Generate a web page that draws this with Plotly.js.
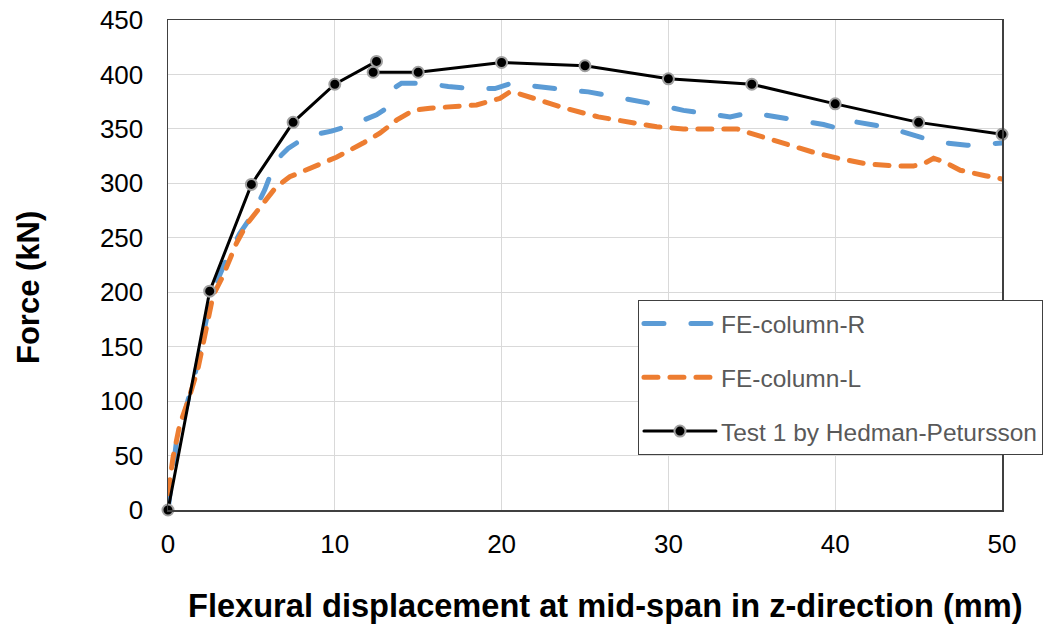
<!DOCTYPE html>
<html>
<head>
<meta charset="utf-8">
<script src="https://cdn.plot.ly/plotly-3.0.1.min.js"></script>
<style>
  html, body { margin: 0; padding: 0; background: #fff; }
  #chart { width: 1051px; height: 628px; }
  .js-line { stroke-linecap: round; }
</style>
</head>
<body>
<div id="chart"></div>
<script>
// FE-column-R (blue, long dash)
var feRx = [0, 0.5, 1.1, 1.7, 2.3, 2.8, 3.5, 4.3, 5.1, 5.8, 6.3, 6.8, 7.2, 8.3, 9.8, 11.1, 12.5, 13.0, 13.3, 13.6, 14.0, 15.3, 16.8, 18.1, 19.6, 20.6, 20.9, 22.4, 23.8, 25.2, 26.6, 28.0, 29.4, 30.9, 32.2, 33.7, 34.9, 36.5, 37.8, 39.3, 40.3, 41.0, 42.5, 43.9, 45.2, 46.6, 47.9, 49.5, 50];
var feRy = [0, 62, 95, 130, 175, 205, 230, 254, 272, 294, 314, 326, 332, 343, 348, 354, 363, 368, 377, 388, 392, 392, 389, 387, 387, 392, 391, 389, 386, 384, 380, 377, 372, 367, 364, 361, 365, 361, 357, 354, 350, 357, 353, 348, 342, 337, 335, 336, 337];

// FE-column-L (orange, short dash)
var feLx = [0, 0.3, 0.7, 1.2, 1.8, 2.2, 2.7, 3.3, 4.1, 4.7, 5.5, 6.5, 7.3, 8.9, 10.1, 11.7, 12.7, 13.7, 14.7, 15.7, 17.1, 18.5, 19.9, 20.5, 20.9, 22.6, 23.8, 25.8, 27.4, 29.3, 30.9, 32.9, 34.1, 34.7, 35.6, 37.4, 38.8, 40.2, 41.8, 43.5, 44.7, 45.3, 45.9, 46.5, 47.5, 49.0, 50];
var feLy = [15, 48, 78, 100, 130, 162, 197, 215, 245, 262, 278, 297, 306, 317, 324, 337, 346, 358, 367, 369, 370, 372, 378, 384, 383, 375, 369, 361, 357, 352, 350, 350, 350, 347, 343, 334, 328, 323, 318, 316, 316, 318, 323, 320, 312, 307, 304];

// Test 1 by Hedman-Petursson (black with markers)
var testX = [0, 2.5, 5, 7.5, 10, 12.5, 12.3, 15, 20, 25, 30, 35, 40, 45, 50];
var testY = [0, 201, 299, 356, 391, 412, 402, 402, 411, 408, 396, 391, 373, 356, 345];

var seriesNames = ['FE-column-R', 'FE-column-L', 'Test 1 by Hedman-Petursson'];
var xTicks = [0, 10, 20, 30, 40, 50];
var yTicks = [0, 50, 100, 150, 200, 250, 300, 350, 400, 450];
var xTitle = 'Flexural displacement at mid-span in z-direction (mm)';
var yTitle = 'Force (kN)';

var FONT = '"Liberation Sans", Arial, Helvetica, sans-serif';

var traces = [
  {
    x: feRx, y: feRy, name: seriesNames[0], mode: 'lines', legendgroup: 'a',
    line: { color: '#5b9bd5', width: 5, dash: '20px,27px' }
  },
  {
    x: feLx, y: feLy, name: seriesNames[1], mode: 'lines', legendgroup: 'b',
    line: { color: '#ed7d31', width: 5, dash: '14px,12px' }
  },
  {
    x: testX, y: testY, name: seriesNames[2], mode: 'lines+markers', legendgroup: 'c',
    cliponaxis: false,
    line: { color: '#000000', width: 3 },
    marker: { color: '#000000', size: 11, line: { color: '#a0a0a0', width: 2 } }
  }
];

var layout = {
  width: 1051, height: 628,
  margin: { l: 168, r: 49, t: 20, b: 118, autoexpand: false },
  paper_bgcolor: '#ffffff', plot_bgcolor: '#ffffff',
  font: { family: FONT, color: '#000000' },
  showlegend: true,
  legend: {
    x: 0.5635, y: 0.4286, xanchor: 'left', yanchor: 'top',
    bgcolor: '#ffffff', bordercolor: '#404040', borderwidth: 1,
    font: { family: FONT, size: 24.5, color: '#595959' },
    tracegroupgap: 19, itemwidth: 72,
    entrywidth: 341, entrywidthmode: 'pixels'
  },
  xaxis: {
    range: [0, 50], tickvals: xTicks, ticktext: xTicks.map(String),
    showgrid: true, gridcolor: '#d9d9d9', gridwidth: 1,
    zeroline: false, showline: true, linecolor: '#404040', linewidth: 1.5, mirror: true,
    ticks: '', tickfont: { family: FONT, size: 26, color: '#000' },
    ticklabelstandoff: 10, fixedrange: true
  },
  yaxis: {
    range: [0, 450], tickvals: yTicks, ticktext: yTicks.map(String),
    showgrid: true, gridcolor: '#d9d9d9', gridwidth: 1,
    zeroline: false, showline: true, linecolor: '#404040', linewidth: 1.5, mirror: true,
    ticks: '', tickfont: { family: FONT, size: 26, color: '#000' },
    ticklabelstandoff: 18, fixedrange: true
  },
  annotations: [
    {
      text: xTitle, xref: 'paper', yref: 'paper', x: 0.5246, y: -0.1959,
      xanchor: 'center', yanchor: 'middle', showarrow: false,
      font: { family: FONT, size: 32.6, color: '#000' }
    },
    {
      text: yTitle, xref: 'paper', yref: 'paper', x: -0.1679, y: 0.455,
      xanchor: 'center', yanchor: 'middle', showarrow: false, textangle: -90,
      font: { family: FONT, size: 31, color: '#000' }
    }
  ]
};

// make titles bold
layout.annotations.forEach(function (a) { a.text = '<b>' + a.text + '</b>'; });

Plotly.newPlot('chart', traces, layout, { staticPlot: true, displayModeBar: false });
</script>
</body>
</html>
